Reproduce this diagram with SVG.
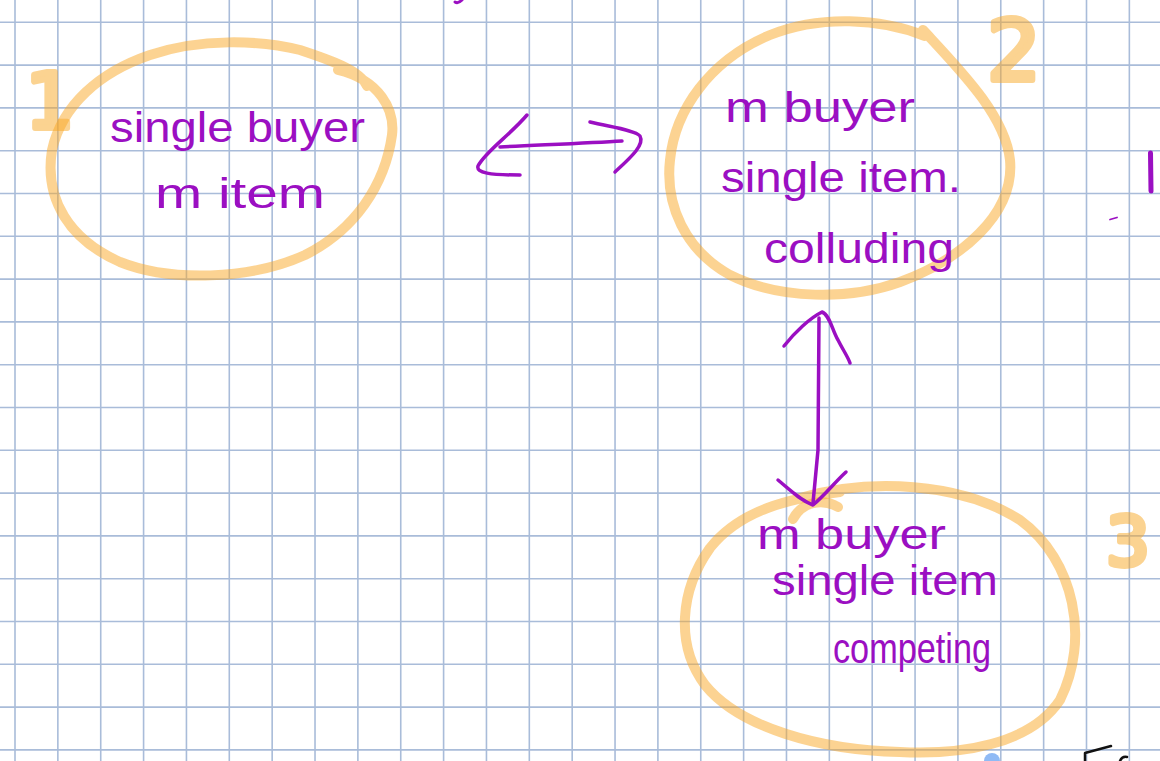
<svg xmlns="http://www.w3.org/2000/svg" width="1160" height="761" viewBox="0 0 1160 761">
<style>
.grid{stroke:#a9bcd9;stroke-width:1.6;fill:none}
.ring{fill:none;stroke:#f9a825;stroke-width:10;stroke-linecap:round;stroke-linejoin:round;opacity:0.5}
.num{fill:#f9a825;stroke:#f9a825;stroke-width:6;stroke-linejoin:round;opacity:0.5;font-family:"DejaVu Sans",sans-serif;text-anchor:middle}
.ink{fill:none;stroke:#9b0fc2;stroke-width:3.5;stroke-linecap:round;stroke-linejoin:round}
.lbl{fill:#9b0fc2;font-family:"Liberation Sans",Arial,sans-serif;font-size:42px}
</style>
<rect width="1160" height="761" fill="#ffffff"/>
<path class="grid" d="M15,0V761M57.86,0V761M100.72,0V761M143.58,0V761M186.44,0V761M229.3,0V761M272.16,0V761M315.02,0V761M357.88,0V761M400.74,0V761M443.6,0V761M486.46,0V761M529.32,0V761M572.18,0V761M615.04,0V761M657.9,0V761M700.76,0V761M743.62,0V761M786.48,0V761M829.34,0V761M872.2,0V761M915.06,0V761M957.92,0V761M1000.78,0V761M1043.64,0V761M1086.5,0V761M1129.36,0V761M0,22.3H1160M0,65.1H1160M0,107.9H1160M0,150.7H1160M0,193.5H1160M0,236.3H1160M0,279.1H1160M0,321.9H1160M0,364.7H1160M0,407.5H1160M0,450.3H1160M0,493.1H1160M0,535.9H1160M0,578.7H1160M0,621.5H1160M0,664.3H1160M0,707.1H1160M0,749.9H1160"/>

<g id="node1">
<path class="ring" d="M367,86 C360,70 330,60 300,50 C260,40 200,38 150,55 C100,72 62,105 52,150 C44,200 70,240 120,262 C170,282 250,280 305,255 C355,230 385,185 392,135 C395,110 380,80 338,70"/>
<text class="num" x="50" y="128" font-size="76">1</text>
<text class="lbl" x="110" y="142" textLength="255" lengthAdjust="spacingAndGlyphs">single buyer</text>
<text class="lbl" x="155" y="208" textLength="170" lengthAdjust="spacingAndGlyphs">m item</text>
</g>

<g id="node2">
<path class="ring" d="M923,30 C960,70 1005,115 1010,160 C1015,215 960,260 900,282 C850,300 780,300 730,275 C685,250 665,205 670,160 C675,110 710,60 770,35 C820,15 880,18 925,36"/>
<text class="num" x="1014" y="80" font-size="84">2</text>
<text class="lbl" x="725" y="122" textLength="190" lengthAdjust="spacingAndGlyphs">m buyer</text>
<text class="lbl" x="721" y="192" textLength="240" lengthAdjust="spacingAndGlyphs">single item.</text>
<text class="lbl" x="764" y="263" textLength="190" lengthAdjust="spacingAndGlyphs">colluding</text>
</g>

<g id="node3">
<path class="ring" d="M838,507 C822,498 802,502 793,519"/>
<path class="ring" d="M800,498 C870,478 960,482 1020,520 C1075,560 1090,640 1060,700 C1030,745 960,755 900,752 C820,750 740,728 705,685 C675,645 680,590 710,548 C740,510 790,498 840,492"/>
<text class="num" x="1128" y="565" font-size="68">3</text>
<text class="lbl" x="757" y="549" textLength="189" lengthAdjust="spacingAndGlyphs">m buyer</text>
<text class="lbl" x="772" y="595" textLength="226" lengthAdjust="spacingAndGlyphs">single item</text>
<text class="lbl" x="833" y="663" textLength="158" lengthAdjust="spacingAndGlyphs" font-size="38">competing</text>
</g>

<g id="connectors">
<path class="ink" d="M500,147 C540,145 590,143 622,141"/>
<path class="ink" d="M527,115 C510,135 485,152 478,166 C476,173 490,175 520,175"/>
<path class="ink" d="M590,122 C610,127 635,130 640,136 C645,145 630,158 615,172"/>
<path class="ink" d="M819,318 L818,450 L813,503"/>
<path class="ink" d="M784,346 C795,332 810,318 822,312 C830,315 832,330 838,340 C843,350 848,357 850,363"/>
<path class="ink" d="M778,480 C790,490 800,500 813,505 C825,495 835,482 846,472"/>
</g>

<g id="marks">
<path d="M455,2 Q458,4 462,0" fill="none" stroke="#9b0fc2" stroke-width="3" stroke-linecap="round"/>
<path d="M1150.5,153 L1151,191" fill="none" stroke="#9b0fc2" stroke-width="5" stroke-linecap="round"/>
<path d="M1110,219.5 L1117,217.5" fill="none" stroke="#9b0fc2" stroke-width="1.8" stroke-linecap="round"/>
<circle cx="992" cy="761" r="8" fill="#8fbaf5"/>
<path d="M1085,761 L1085,753 L1111,746" fill="none" stroke="#111111" stroke-width="2.5" stroke-linecap="round" stroke-linejoin="round"/>
<path d="M1120,761 Q1122,756 1127,757" fill="none" stroke="#111111" stroke-width="2.5" stroke-linecap="round"/>
</g>
</svg>
